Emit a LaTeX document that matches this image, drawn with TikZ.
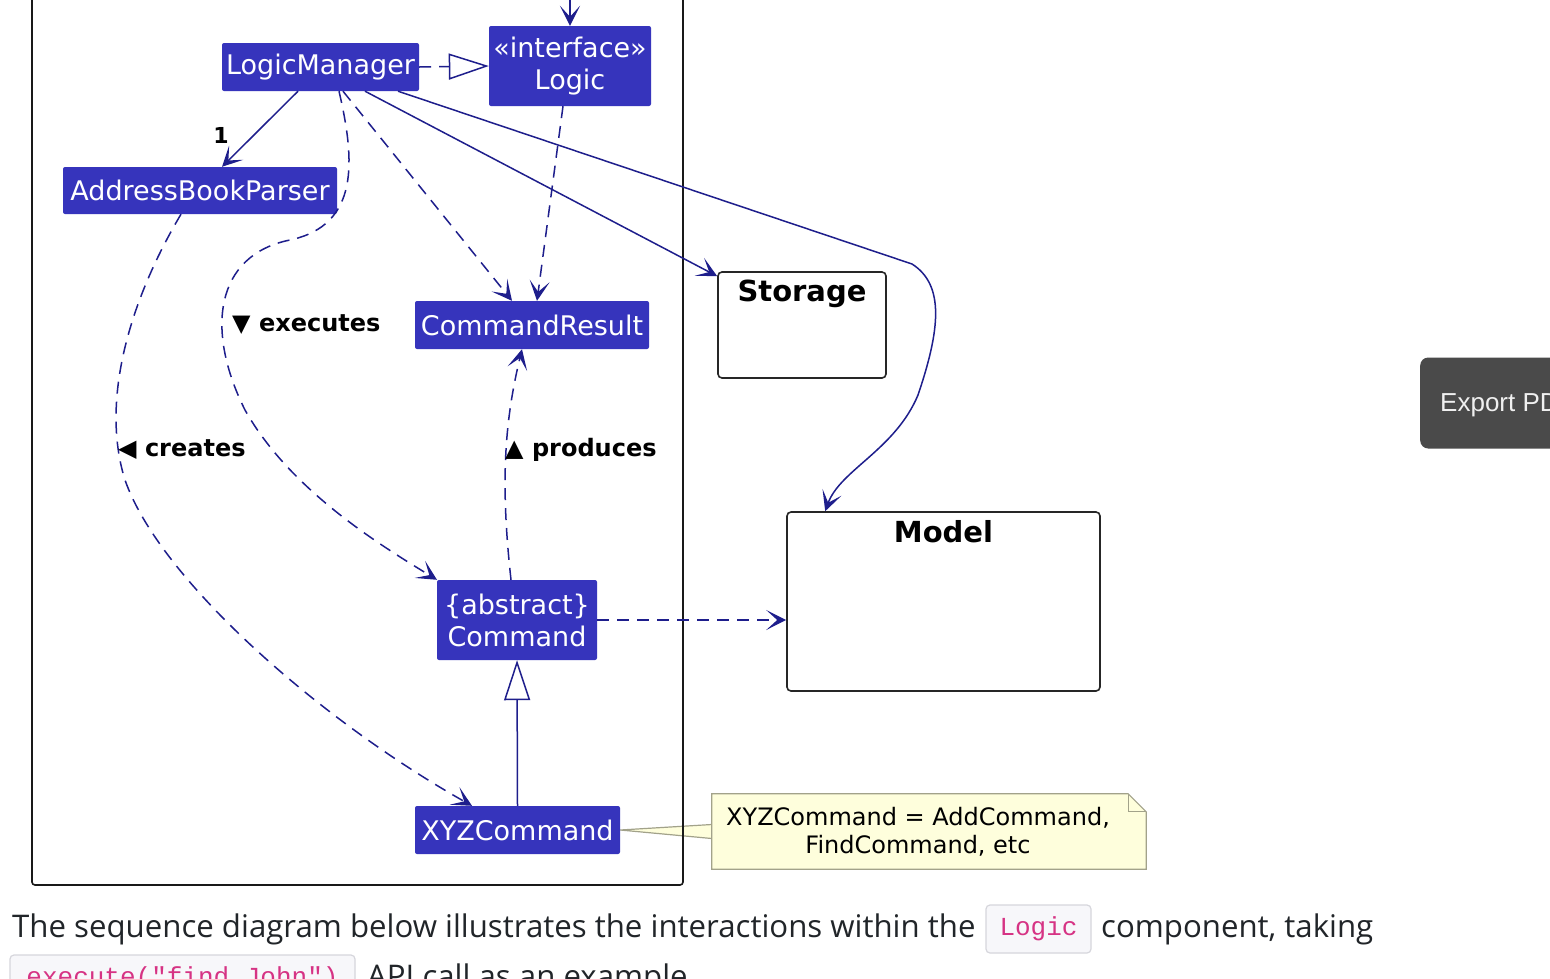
\documentclass[tikz,border=0pt]{standalone}
\usepackage{fontspec}
\usetikzlibrary{arrows.meta,positioning,backgrounds}
\newfontfamily\umlfont{DejaVu Sans}
\newfontfamily\pagefont{Open Sans}
\newfontfamily\codefont{Liberation Mono}
\newfontfamily\btnfont{Liberation Sans}
\definecolor{logicblue}{HTML}{3634BC}
\definecolor{arrowblue}{HTML}{1E1E8C}
\definecolor{notefill}{HTML}{FEFEDC}
\definecolor{noteline}{HTML}{A2A28A}
\definecolor{codepink}{HTML}{D63384}
\definecolor{codebg}{HTML}{F7F7FA}
\definecolor{codeline}{HTML}{D6D6DC}
\definecolor{pagetextcol}{HTML}{212529}
\definecolor{btngray}{HTML}{4A4A4A}

\tikzset{
  cls/.style={fill=logicblue, text=white, rounded corners=2pt, inner sep=0pt, align=center,
    font=\umlfont\fontsize{27}{32}\selectfont},
  comp/.style={draw=black!85, line width=1.6pt, rounded corners=4pt, inner sep=0pt},
  comptitle/.style={font=\umlfont\bfseries\fontsize{29}{34}\selectfont, inner sep=0pt},
  lbl/.style={font=\umlfont\bfseries\fontsize{24}{28}\selectfont, inner sep=0pt, anchor=west},
  assoc/.style={draw=arrowblue, line width=1.5pt, -{Stealth[length=20pt, width=20pt, inset=11pt]}},
  dep/.style={assoc, dash pattern=on 12pt off 8pt},
  realize/.style={draw=arrowblue, line width=1.5pt, dash pattern=on 12pt off 8pt,
    -{Triangle[open, length=40pt, width=26pt]}},
  inherit/.style={draw=arrowblue, line width=1.5pt, -{Triangle[open, length=40pt, width=26pt]}},
  notestyle/.style={draw=noteline, fill=notefill, line width=1.2pt},
  pagetext/.style={font=\pagefont\fontsize{31.2}{36}\selectfont, text=pagetextcol, inner sep=0pt, anchor=west},
  codebox/.style={fill=codebg, draw=codeline, line width=1.2pt, rounded corners=4pt, text=codepink,
    font=\codefont\fontsize{26}{30}\selectfont, inner sep=0pt},
  btn/.style={fill=btngray, rounded corners=8pt, text=white!94!black, inner xsep=20pt, inner ysep=0pt,
    minimum height=91pt, text depth=0pt, font=\btnfont\fontsize{26}{30}\selectfont},
}

\begin{document}
\begin{tikzpicture}[x=1pt, y=-1pt]
\useasboundingbox (0,0) rectangle (1550,978);
\clip (0,0) rectangle (1550,978);
\begin{scope}[on background layer]
\fill[white] (0,0) rectangle (1550,978);
\end{scope}

\draw[line width=1.6pt, black!90, rounded corners=3pt] (32,-20) rectangle (683,885);

\node[cls, minimum width=197pt, minimum height=48pt] (lm) at (320.5,67) {LogicManager};
\node[cls, minimum width=162pt, minimum height=80pt] (lg) at (570,66) {«interface»\\Logic};
\node[cls, minimum width=274pt, minimum height=47pt] (abp) at (200,190.5) {AddressBookParser};
\node[cls, minimum width=234pt, minimum height=48pt] (cr) at (532,325) {CommandResult};
\node[cls, minimum width=160pt, minimum height=80pt] (cmd) at (517,620) {\{abstract\}\\Command};
\node[cls, minimum width=205pt, minimum height=48pt] (xyz) at (517.5,830) {XYZCommand};

\node[comp, minimum width=168pt, minimum height=106pt] (st) at (802,325) {};
\node[comptitle, below=9pt of st.north] (sttitle) {Storage};
\node[comp, minimum width=313pt, minimum height=179pt] (md) at (943.5,601.5) {};
\node[comptitle, below=9pt of md.north] (mdtitle) {Model};

\node[font=\umlfont\fontsize{24}{28}\selectfont, align=center, minimum width=412pt, minimum height=75pt,
  inner sep=0pt] (nt) at (918,831.5) {XYZCommand = AddCommand,\\FindCommand, etc};
\begin{scope}[on background layer]
\draw[notestyle] ([yshift=-7pt]nt.west) -- (xyz.east) -- ([yshift=7pt]nt.west);
\draw[notestyle] (nt.north west) -- ([xshift=4pt]nt.north east) -- ([xshift=22pt,yshift=-18pt]nt.north east)
  -- ([xshift=22pt]nt.south east) -- (nt.south west) -- cycle;
\draw[notestyle, fill=none] ([xshift=4pt]nt.north east) |- ([xshift=22pt,yshift=-18pt]nt.north east);
\end{scope}

\coordinate (entry) at (570,-5);
\draw[assoc] (entry) -- (lg.north);
\draw[realize] (lm.east) -- (lg.west);
\draw[assoc] ([xshift=-22.5pt]lm.south) -- ([xshift=22pt]abp.north);
\node[font=\umlfont\bfseries\fontsize{22}{26}\selectfont, inner sep=0pt] (mult) at (221,135) {1};
\draw[dep] ([xshift=22.5pt]lm.south) -- ([xshift=-20pt]cr.north);
\draw[dep] ([xshift=-7pt]lg.south) -- ([xshift=5pt]cr.north);
\draw[assoc] ([xshift=44.5pt]lm.south) -- ([yshift=-5pt]st.north west);
\draw[assoc] ([xshift=77.5pt]lm.south) -- (912,264) .. controls (945,285) and (940,330) .. (918,395)
  .. controls (895,450) and (840,470) .. ([xshift=39pt]md.north west);
\draw[dep] ([xshift=18.5pt]lm.south) .. controls (355,160) and (360,225) .. (290,240)
  .. controls (215,255) and (205,330) .. (245,410)
  .. controls (290,490) and (380,545) .. ([xshift=-80pt]cmd.north);
\draw[dep] ([xshift=-19pt]abp.south) .. controls (130,300) and (100,400) .. (125,480)
  .. controls (160,580) and (320,720) .. ([xshift=-45.5pt]xyz.north);
\draw[dep] ([xshift=-6pt]cmd.north) .. controls (500,480) and (505,420) .. ([xshift=-10pt]cr.south);
\draw[dep] (cmd.east) -- (cmd.east -| md.west);
\draw[inherit] (xyz.north) -- (cmd.south);

\node[lbl] (lblexec) at (232,325) {▼ executes};
\node[lbl] (lblcreate) at (118,450) {◀ creates};
\node[lbl] (lblprod) at (505,450) {▲ produces};

\node[pagetext] (line1) at (12,929) {The sequence diagram below illustrates the interactions within the};
\node[codebox, minimum width=105pt, minimum height=48pt] (codelogic) at (1038.5,929) {Logic};
\node[pagetext] (line1b) at (1101,929) {component, taking};
\node[codebox, minimum width=345pt, minimum height=48pt] (codeexec) at (182.5,979) {execute("find John")};
\node[pagetext] (line2) at (367,979) {API call as an example.};

\node[btn, anchor=west] (export) at (1420,403) {Export PDF};
\end{tikzpicture}
\end{document}
